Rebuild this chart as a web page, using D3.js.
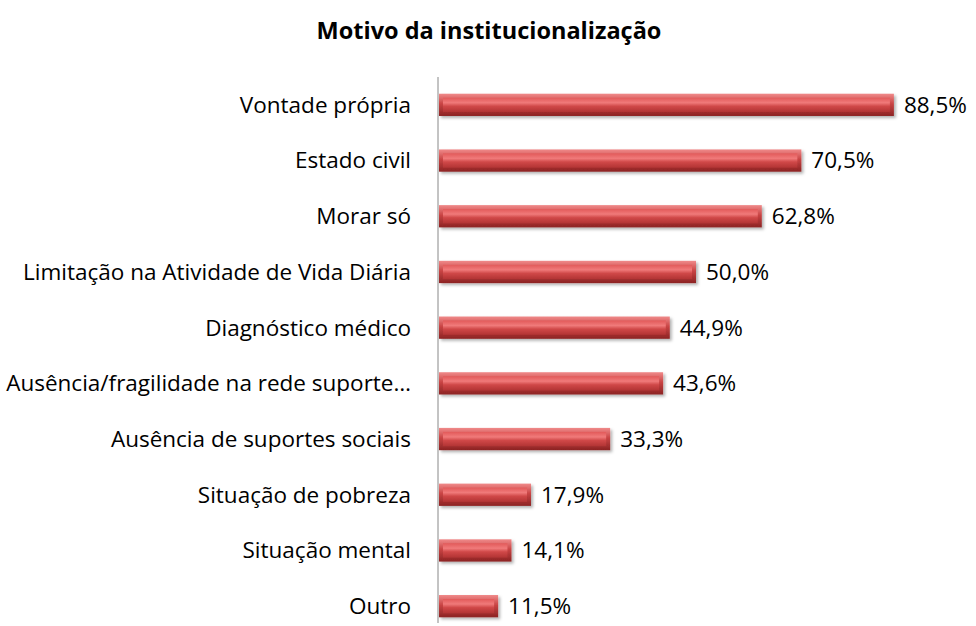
<!DOCTYPE html>
<html>
<head>
<meta charset="utf-8">
<script src="https://cdn.jsdelivr.net/npm/d3@7"></script>
<style>
  body { margin: 0; background: #fff; }
  text { font-family: "Open Sans", sans-serif; fill: #000; }
</style>
</head>
<body>
<div id="chart"></div>
<script>
const categories = ["Vontade própria", "Estado civil", "Morar só", "Limitação na Atividade de Vida Diária",
  "Diagnóstico médico", "Ausência/fragilidade na rede suporte…", "Ausência de suportes sociais",
  "Situação de pobreza", "Situação mental", "Outro"];
const values = [88.5, 70.5, 62.8, 50.0, 44.9, 43.6, 33.3, 17.9, 14.1, 11.5];
const labels = ["88,5%", "70,5%", "62,8%", "50,0%", "44,9%", "43,6%", "33,3%", "17,9%", "14,1%", "11,5%"];

const width = 976, height = 626;
const margin = { top: 77, right: 23, bottom: 3, left: 438 };

const svg = d3.select("#chart").append("svg")
  .attr("width", width).attr("height", height);

const defs = svg.append("defs");
const gOuter = defs.append("linearGradient").attr("id", "outer").attr("x1", 0).attr("y1", 0).attr("x2", 0).attr("y2", 1);
gOuter.append("stop").attr("offset", "0%").attr("stop-color", "#f08a8a");
gOuter.append("stop").attr("offset", "45%").attr("stop-color", "#c94444");
gOuter.append("stop").attr("offset", "100%").attr("stop-color", "#8c2323");
const gInner = defs.append("linearGradient").attr("id", "inner").attr("x1", 0).attr("y1", 0).attr("x2", 0).attr("y2", 1);
gInner.append("stop").attr("offset", "0%").attr("stop-color", "#e25a5a");
gInner.append("stop").attr("offset", "35%").attr("stop-color", "#f07a7a");
gInner.append("stop").attr("offset", "60%").attr("stop-color", "#d04848");
gInner.append("stop").attr("offset", "100%").attr("stop-color", "#b23434");
const shadow = defs.append("filter").attr("id", "shadow").attr("x", "-5%").attr("y", "-30%").attr("width", "115%").attr("height", "180%");
shadow.append("feDropShadow").attr("dx", 2).attr("dy", 2).attr("stdDeviation", 1.5).attr("flood-color", "#000").attr("flood-opacity", 0.3);

svg.append("text")
  .attr("x", 489).attr("y", 39)
  .attr("text-anchor", "middle")
  .style("font-size", "23.5px").style("font-weight", "bold")
  .text("Motivo da institucionalização");

const x = d3.scaleLinear().domain([0, 100]).range([margin.left, margin.left + 514]);
const y = d3.scaleBand().domain(categories).range([77, 634]).paddingInner(0.6).paddingOuter(0.3);

const bars = svg.append("g").selectAll("g").data(categories).join("g");

bars.append("rect")
  .attr("x", x(0) + 1)
  .attr("y", d => y(d))
  .attr("width", (d, i) => x(values[i]) - x(0))
  .attr("height", y.bandwidth())
  .attr("fill", "url(#outer)")
  .attr("filter", "url(#shadow)");

bars.append("rect")
  .attr("x", x(0) + 5)
  .attr("y", d => y(d) + 4)
  .attr("width", (d, i) => Math.max(0, x(values[i]) - x(0) - 8))
  .attr("height", y.bandwidth() - 8)
  .attr("fill", "url(#inner)");

svg.append("g").selectAll("text").data(categories).join("text")
  .attr("x", margin.left - 27)
  .attr("y", d => y(d) + y.bandwidth() / 2)
  .attr("dy", "0.35em")
  .attr("text-anchor", "end")
  .style("font-size", "22.5px")
  .text(d => d);

svg.append("g").selectAll("text").data(categories).join("text")
  .attr("x", (d, i) => x(values[i]) + 11)
  .attr("y", d => y(d) + y.bandwidth() / 2)
  .attr("dy", "0.35em")
  .style("font-size", "22.5px")
  .text((d, i) => labels[i]);

svg.append("line")
  .attr("x1", margin.left).attr("x2", margin.left)
  .attr("y1", margin.top).attr("y2", 623)
  .attr("stroke", "#888").attr("stroke-width", 1);
</script>
</body>
</html>
